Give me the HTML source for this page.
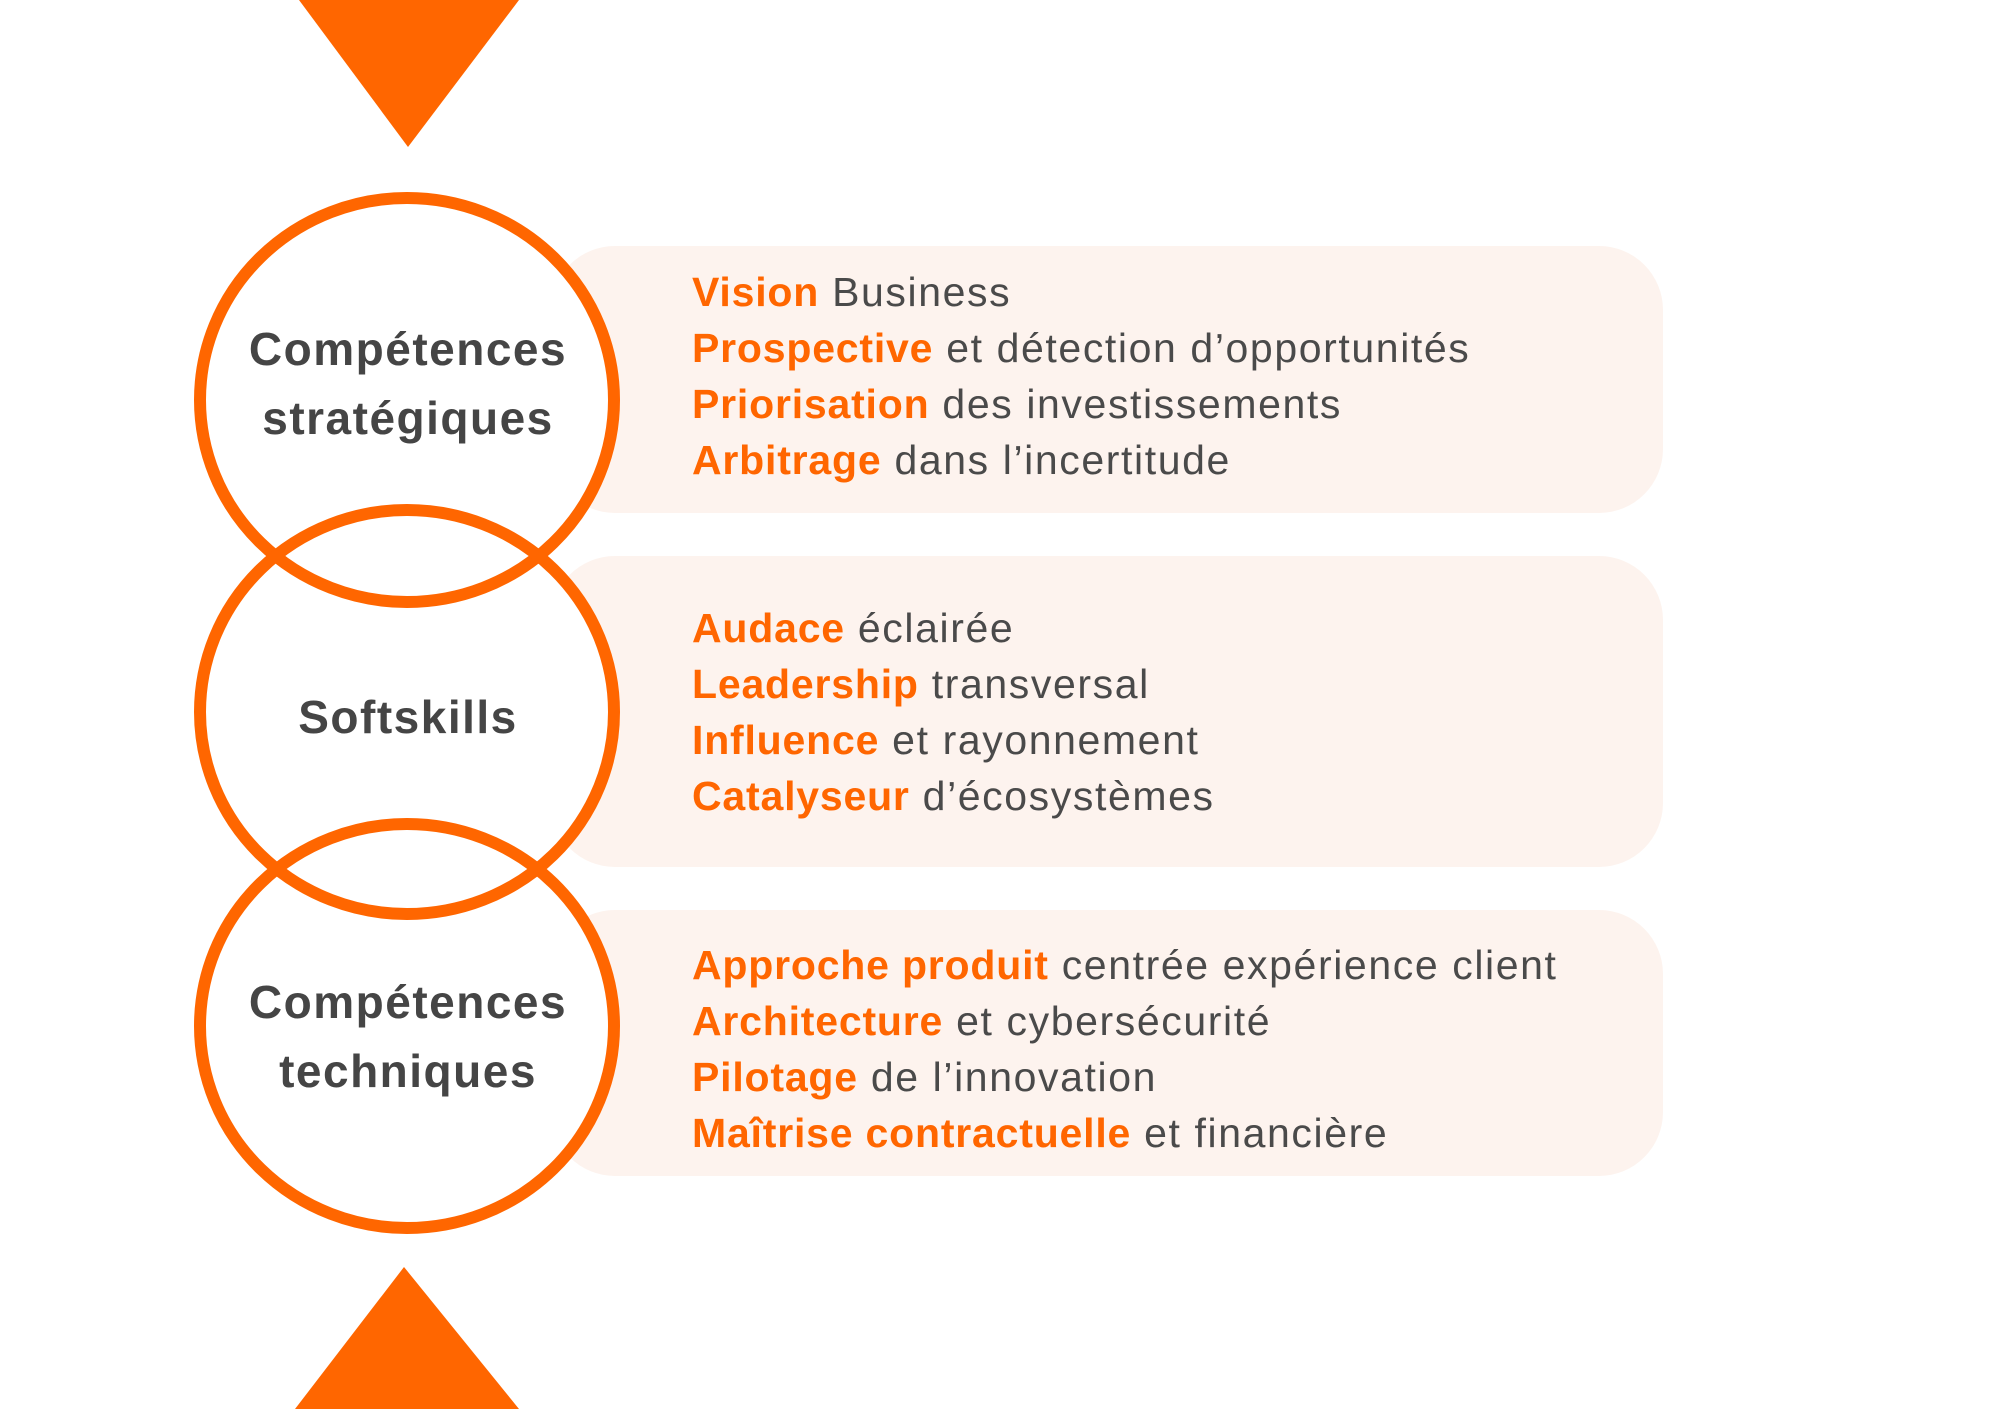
<!DOCTYPE html>
<html><head><meta charset="utf-8"><style>
body{margin:0;width:2000px;height:1409px;background:#fff;position:relative;overflow:hidden;font-family:"Liberation Sans",sans-serif}
.box{position:absolute;left:551px;width:1120px;background:#fdf3ee;border-radius:64px}
.txt{position:absolute;left:692px;font-size:41px;line-height:56px;color:#4a4a4a;white-space:nowrap;letter-spacing:1.6px}
.txt b{color:#ff6600;letter-spacing:0.8px}
.lab{position:absolute;left:178px;width:460px;text-align:center;font-weight:bold;font-size:46px;line-height:69px;color:#454545;letter-spacing:1.5px}
svg{position:absolute;left:0;top:0}
</style></head><body>
<div class="box" style="top:246px;height:267px;width:1112px"></div>
<div class="box" style="top:556px;height:311px;width:1112px"></div>
<div class="box" style="top:910px;height:266px;width:1112px"></div>
<svg width="2000" height="1409">
<polygon points="299,0 519,0 408,147" fill="#ff6600"/>
<polygon points="295,1409 519,1409 404,1267" fill="#ff6600"/>
<g fill="#fff">
<ellipse cx="407" cy="400" rx="207" ry="202"/>
<ellipse cx="407" cy="712" rx="207" ry="202"/>
<ellipse cx="407" cy="1026" rx="207" ry="202"/>
</g>
<g fill="none" stroke="#ff6600" stroke-width="12">
<ellipse cx="407" cy="400" rx="207" ry="202"/>
<ellipse cx="407" cy="712" rx="207" ry="202"/>
<ellipse cx="407" cy="1026" rx="207" ry="202"/>
</g>
</svg>
<div class="lab" style="top:315px">Compétences<br>stratégiques</div>
<div class="lab" style="top:683px">Softskills</div>
<div class="lab" style="top:968px">Compétences<br>techniques</div>
<div class="txt" style="top:264px"><b>Vision</b> Business<br><b>Prospective</b> et détection d’opportunités<br><b>Priorisation</b> des investissements<br><b>Arbitrage</b> dans l’incertitude</div>
<div class="txt" style="top:600px"><b>Audace</b> éclairée<br><b>Leadership</b> transversal<br><b>Influence</b> et rayonnement<br><b>Catalyseur</b> d’écosystèmes</div>
<div class="txt" style="top:937px"><b>Approche produit</b> centrée expérience client<br><b>Architecture</b> et cybersécurité<br><b>Pilotage</b> de l’innovation<br><b>Maîtrise contractuelle</b> et financière</div>
</body></html>
